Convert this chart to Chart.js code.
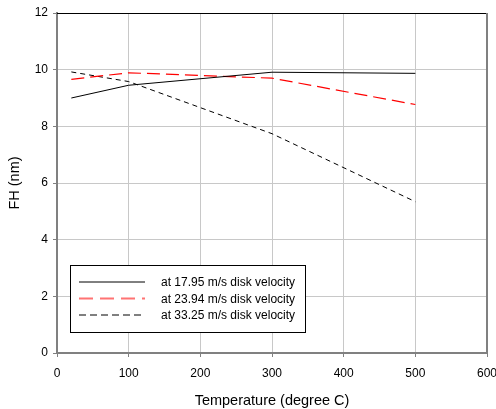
<!DOCTYPE html>
<html>
<head>
<meta charset="utf-8">
<script src="https://cdn.jsdelivr.net/npm/chart.js@4"></script>
<style>
  html, body { margin: 0; padding: 0; background: #fff; }
  #wrap { width: 496px; height: 409px; }
</style>
</head>
<body>
<div id="wrap"><canvas id="fh"></canvas></div>
<script>
// temperature points (degree C) and flying height (nm) at each disk velocity
var temps = [20, 100, 300, 500];
var fh1795 = [9.0, 9.45, 9.91, 9.87];
var fh2394 = [9.66, 9.89, 9.70, 8.77];
var fh3325 = [9.92, 9.58, 7.74, 5.34];
var seriesLabels = ['at 17.95 m/s disk velocity', 'at 23.94 m/s disk velocity', 'at 33.25 m/s disk velocity'];
var xTicks = [0, 100, 200, 300, 400, 500, 600];
var yTicks = [0, 2, 4, 6, 8, 10, 12];

var FONT = '"Liberation Sans", Arial, sans-serif';

function pts(ys) {
    return temps.map(function(t, i) { return {x: t, y: ys[i]}; });
}

// frame lines on top/right + legend box inside the plot
var framePlugin = {
    id: 'frame',
    afterDraw: function(chart) {
        var c = chart.ctx, a = chart.chartArea;
        c.save();
        c.strokeStyle = '#000';
        c.lineWidth = 1;
        c.beginPath();
        c.moveTo(a.left, a.top + 0.5);
        c.lineTo(a.right, a.top + 0.5);
        c.stroke();
        c.strokeStyle = '#808080';
        c.lineWidth = 2;
        c.beginPath();
        c.moveTo(a.right, a.top);
        c.lineTo(a.right, a.bottom);
        c.stroke();

        // legend
        var bx = 70.5, by = 265.5, bw = 235, bh = 67;
        c.fillStyle = '#fff';
        c.fillRect(bx, by, bw, bh);
        c.strokeStyle = '#000';
        c.lineWidth = 1;
        c.strokeRect(bx, by, bw, bh);
        c.font = '12px ' + FONT;
        c.textBaseline = 'middle';
        chart.data.datasets.forEach(function(ds, i) {
            var ly = 282 + i * 16.5;
            c.strokeStyle = ds.legendColor || ds.borderColor;
            c.lineWidth = ds.legendWidth || ds.borderWidth;
            c.setLineDash(ds.legendDash || ds.borderDash || []);
            c.beginPath();
            c.moveTo(79, ly);
            c.lineTo(145, ly);
            c.stroke();
            c.setLineDash([]);
            c.fillStyle = '#000';
            c.fillText(ds.label, 161, ly + 1);
        });
        c.restore();
    }
};

new Chart(document.getElementById('fh'), {
    type: 'scatter',
    data: {
        datasets: [{
            label: seriesLabels[0],
            data: pts(fh1795),
            borderColor: '#000',
            borderWidth: 1,
            showLine: true,
            pointRadius: 0
        }, {
            label: seriesLabels[1],
            data: pts(fh2394),
            borderColor: '#ff0000',
            legendColor: '#ff7373',
            legendWidth: 2,
            borderWidth: 1.2,
            borderDash: [13, 6],
            legendDash: [14, 7],
            showLine: true,
            pointRadius: 0
        }, {
            label: seriesLabels[2],
            data: pts(fh3325),
            borderColor: '#000',
            borderWidth: 1,
            borderDash: [5, 4],
            legendDash: [7, 4],
            showLine: true,
            pointRadius: 0
        }]
    },
    options: {
        responsive: true,
        maintainAspectRatio: false,
        animation: false,
        layout: { padding: { top: 13, right: 9, left: 0, bottom: 0 } },
        plugins: {
            legend: { display: false },
            tooltip: { enabled: false }
        },
        scales: {
            x: {
                type: 'linear',
                min: 0, max: 600,
                afterBuildTicks: function(s) { s.ticks = xTicks.map(function(v) { return {value: v}; }); },
                afterFit: function(s) { s.height = 56; s.paddingRight = 0; s.paddingLeft = 0; },
                grid: { color: '#c8c8c8', tickColor: '#808080', tickLength: 4 },
                border: { color: '#808080', width: 2 },
                ticks: { color: '#000', font: { family: FONT, size: 12 }, padding: 9, maxRotation: 0 },
                title: { display: true, text: 'Temperature (degree C)', color: '#000', font: { family: FONT, size: 14.5 }, padding: { top: 0, bottom: -1 } }
            },
            y: {
                min: 0, max: 12,
                afterBuildTicks: function(s) { s.ticks = yTicks.map(function(v) { return {value: v}; }); },
                afterFit: function(s) { s.width = 57; },
                grid: { color: '#c8c8c8', tickColor: '#808080', tickLength: 4 },
                border: { color: '#808080', width: 2 },
                ticks: { color: '#000', font: { family: FONT, size: 12 }, padding: 5 },
                title: { display: true, text: 'FH (nm)', color: '#000', font: { family: FONT, size: 14.5 }, padding: { top: 6, bottom: 8 } }
            }
        }
    },
    plugins: [framePlugin]
});
</script>
</body>
</html>
